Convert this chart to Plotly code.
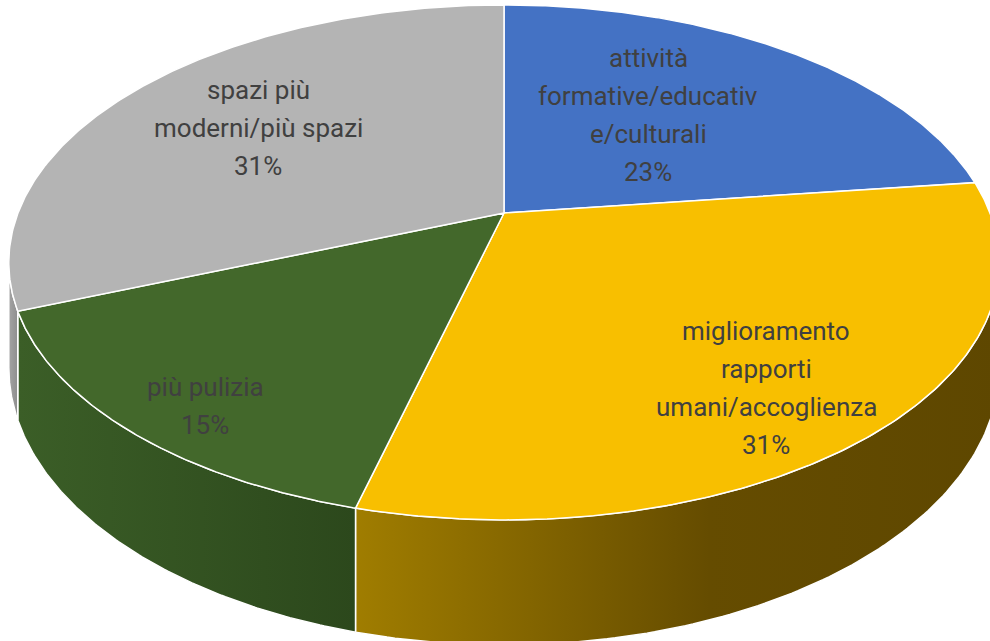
import numpy as np
import plotly.graph_objects as go

# --- data -------------------------------------------------------------
categories = [
    "attività formative/educative/culturali",
    "miglioramento rapporti umani/accoglienza",
    "più pulizia",
    "spazi più moderni/più spazi",
]
label_lines = [
    ["attività", "formative/educativ", "e/culturali"],
    ["miglioramento", "rapporti", "umani/accoglienza"],
    ["più pulizia"],
    ["spazi più", "moderni/più spazi"],
]
shares = [23, 31, 15, 31]

# --- style ------------------------------------------------------------
top_colors = ["#4472C4", "#F8BF00", "#43682B", "#B4B4B4"]
side_gradients = [
    ["#2F5597", "#203864"],
    ["#A07D00", "#654C00", "#5E4700"],
    ["#3B5E27", "#2C481C"],
    ["#A3A3A3", "#8E8E8E"],
]
label_anchor = [(648, 115), (766, 388), (205, 406), (258, 128)]
LINE_STEP = 38
FONT = dict(family="Roboto, 'Open Sans', sans-serif", size=26, color="#404040")

# perspective disc: centre, radii, tilt and thickness (pixel units)
CX, CY, RX, RY, K, DEPTH = 504.0, 213.0, 486.0, 248.0, 0.192, 101.0


def project(theta_deg, frac=1.0, drop=0.0):
    t = np.radians(theta_deg)
    z = frac * np.cos(t)
    x = frac * np.sin(t)
    s = 1.0 / (1.0 + K * z)
    return CX + RX * x * s, CY - RY * z * s + drop * s


total = float(sum(shares))
bounds = np.concatenate([[0.0], np.cumsum(shares) / total * 360.0])

# visible part of the rim wall (silhouette where depth = -K)
vis_a = np.degrees(np.arccos(-K))
vis_b = 360.0 - vis_a

fig = go.Figure()

# side walls first
for i in range(len(shares)):
    a, b = max(bounds[i], vis_a), min(bounds[i + 1], vis_b)
    if b <= a:
        continue
    th = np.linspace(a, b, 120)
    xt, yt = project(th)
    xb, yb = project(th[::-1], drop=DEPTH)
    xs = np.concatenate([xt, xb, xt[:1]])
    ys = np.concatenate([yt, yb, yt[:1]])
    cols = side_gradients[i]
    if len(cols) == 3:
        scale = [[0, cols[0]], [0.55, cols[1]], [1, cols[2]]]
    else:
        scale = [[0, cols[0]], [1, cols[1]]]
    fig.add_trace(go.Scatter(
        x=xs, y=ys, mode="lines", fill="toself",
        fillgradient=dict(type="horizontal", colorscale=scale),
        line=dict(color="white", width=1.5),
        hoverinfo="skip", showlegend=False,
    ))

# top faces
for i in range(len(shares)):
    th = np.linspace(bounds[i], bounds[i + 1], 200)
    xa, ya = project(th)
    xs = np.concatenate([[CX], xa, [CX]])
    ys = np.concatenate([[CY], ya, [CY]])
    fig.add_trace(go.Scatter(
        x=xs, y=ys, mode="lines", fill="toself",
        fillcolor=top_colors[i],
        line=dict(color="white", width=1.5),
        name=categories[i], hoverinfo="name", showlegend=False,
    ))

# data labels: category lines followed by the percentage
for i, v in enumerate(shares):
    lines = label_lines[i] + [f"{round(v / total * 100)}%"]
    x0, yc = label_anchor[i]
    y0 = yc - LINE_STEP * (len(lines) - 1) / 2
    for j, txt in enumerate(lines):
        fig.add_annotation(
            x=x0, y=y0 + j * LINE_STEP, xref="x", yref="y",
            text=txt, showarrow=False, font=FONT,
            xanchor="center", yanchor="middle",
        )

fig.update_layout(
    width=990, height=641,
    margin=dict(l=0, r=0, t=0, b=0),
    paper_bgcolor="white", plot_bgcolor="white",
    xaxis=dict(range=[0, 990], visible=False, fixedrange=True),
    yaxis=dict(range=[641, 0], visible=False, fixedrange=True),
    showlegend=False,
)

fig.write_html("out.html")
